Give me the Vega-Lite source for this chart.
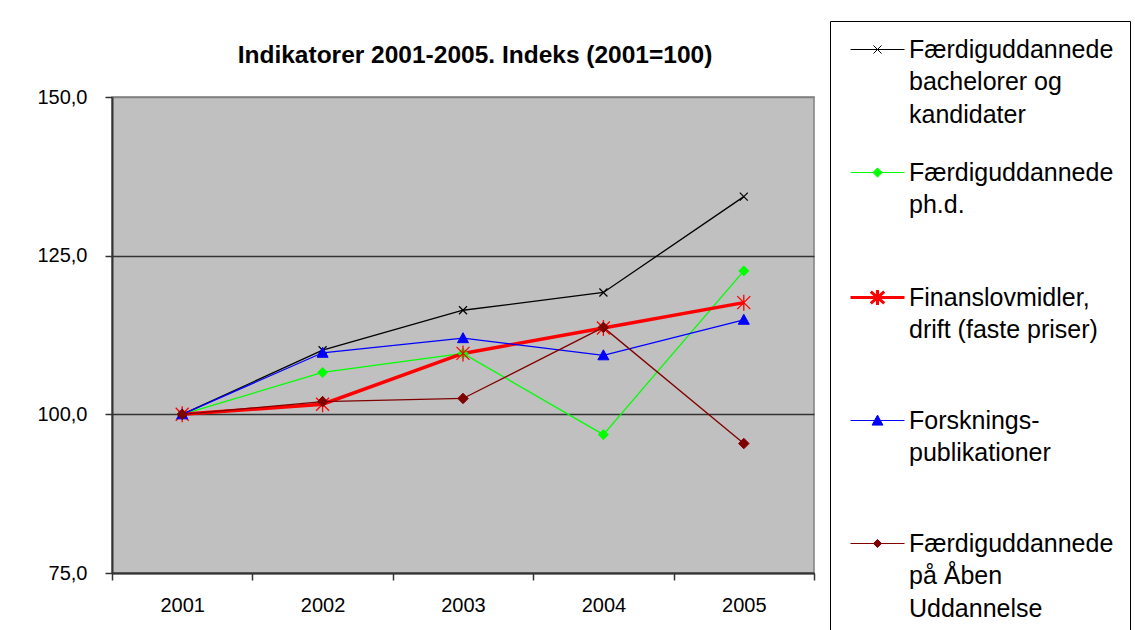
{
  "$schema": "https://vega.github.io/schema/vega-lite/v6.json",
  "autosize": {"type": "none"},
  "padding": {"left": 112, "top": 97, "right": 321, "bottom": 57},
  "width": 702,
  "height": 476,
  "background": "white",
  "config": {
    "view": {"fill": "#C0C0C0", "stroke": "#808080", "strokeWidth": 1.5},
    "font": "Liberation Sans"
  },
  "title": {
    "text": "Indikatorer 2001-2005. Indeks (2001=100)",
    "font": "Liberation Sans",
    "fontSize": 24.5,
    "fontWeight": "bold",
    "color": "#000000",
    "anchor": "middle",
    "frame": "group",
    "baseline": "alphabetic",
    "offset": 33,
    "dx": 12,
    "dy": 100
  },
  "data": {
    "values": [
      {"year": "2001", "s": "Færdiguddannede|bachelorer og|kandidater", "v": 100.0},
      {"year": "2002", "s": "Færdiguddannede|bachelorer og|kandidater", "v": 110.1},
      {"year": "2003", "s": "Færdiguddannede|bachelorer og|kandidater", "v": 116.4},
      {"year": "2004", "s": "Færdiguddannede|bachelorer og|kandidater", "v": 119.2},
      {"year": "2005", "s": "Færdiguddannede|bachelorer og|kandidater", "v": 134.3},
      {"year": "2001", "s": "Færdiguddannede|ph.d.| ", "v": 100.0},
      {"year": "2002", "s": "Færdiguddannede|ph.d.| ", "v": 106.6},
      {"year": "2003", "s": "Færdiguddannede|ph.d.| ", "v": 109.6},
      {"year": "2004", "s": "Færdiguddannede|ph.d.| ", "v": 96.8},
      {"year": "2005", "s": "Færdiguddannede|ph.d.| ", "v": 122.6},
      {"year": "2001", "s": "Finanslovmidler,|drift (faste priser)| ", "v": 100.0},
      {"year": "2002", "s": "Finanslovmidler,|drift (faste priser)| ", "v": 101.6},
      {"year": "2003", "s": "Finanslovmidler,|drift (faste priser)| ", "v": 109.6},
      {"year": "2004", "s": "Finanslovmidler,|drift (faste priser)| ", "v": 113.6},
      {"year": "2005", "s": "Finanslovmidler,|drift (faste priser)| ", "v": 117.6},
      {"year": "2001", "s": "Forsknings-|publikationer| ", "v": 100.0},
      {"year": "2002", "s": "Forsknings-|publikationer| ", "v": 109.7},
      {"year": "2003", "s": "Forsknings-|publikationer| ", "v": 112.0},
      {"year": "2004", "s": "Forsknings-|publikationer| ", "v": 109.3},
      {"year": "2005", "s": "Forsknings-|publikationer| ", "v": 114.9},
      {"year": "2001", "s": "Færdiguddannede|på Åben|Uddannelse", "v": 100.0},
      {"year": "2002", "s": "Færdiguddannede|på Åben|Uddannelse", "v": 102.0},
      {"year": "2003", "s": "Færdiguddannede|på Åben|Uddannelse", "v": 102.5},
      {"year": "2004", "s": "Færdiguddannede|på Åben|Uddannelse", "v": 113.7},
      {"year": "2005", "s": "Færdiguddannede|på Åben|Uddannelse", "v": 95.4}
    ]
  },
  "encoding": {
    "x": {
      "field": "year",
      "type": "ordinal",
      "scale": {"type": "band", "paddingInner": 0, "paddingOuter": 0},
      "axis": {
        "title": null,
        "labelAngle": 0,
        "labelFont": "Liberation Sans",
        "labelFontSize": 20,
        "labelColor": "#000000",
        "labelPadding": 15,
        "tickBand": "extent",
        "tickSize": 7,
        "tickWidth": 1.5,
        "tickColor": "#333333",
        "domainColor": "#333333",
        "domainWidth": 2,
        "grid": false
      }
    },
    "y": {
      "field": "v",
      "type": "quantitative",
      "scale": {"domain": [75, 150], "nice": false, "zero": false},
      "axis": {
        "title": null,
        "values": [75, 100, 125, 150],
        "labelExpr": "replace(format(datum.value, '.1f'), '.', ',')",
        "labelFont": "Liberation Sans",
        "labelFontSize": 20,
        "labelColor": "#000000",
        "labelPadding": 18,
        "tickSize": 7,
        "tickWidth": 1.5,
        "tickColor": "#333333",
        "domainColor": "#333333",
        "domainWidth": 2,
        "grid": true,
        "gridColor": {"condition": {"test": "datum.value == 150", "value": "#808080"}, "value": "#333333"},
        "gridWidth": 1.5
      }
    }
  },
  "layer": [
    {
      "mark": {"type": "line", "interpolate": "linear"},
      "encoding": {
        "color": {
          "field": "s",
          "type": "nominal",
          "scale": {
            "domain": [
              "Færdiguddannede|bachelorer og|kandidater",
              "Færdiguddannede|ph.d.| ",
              "Finanslovmidler,|drift (faste priser)| ",
              "Forsknings-|publikationer| ",
              "Færdiguddannede|på Åben|Uddannelse"
            ],
            "range": ["#000000", "#00FF00", "#FF0000", "#0000FF", "#800000"]
          },
          "legend": {
            "title": null,
            "orient": "none",
            "legendX": 718,
            "legendY": -76,
            "direction": "vertical",
            "strokeColor": "#000000",
            "fillColor": "#FFFFFF",
            "padding": 16,
            "symbolOffset": 2,
            "symbolSize": 2916,
            "labelOffset": 36,
            "rowPadding": 32,
            "labelFont": "Liberation Sans",
            "labelFontSize": 25,
            "labelColor": "#000000",
            "labelLimit": 500,
            "labelExpr": "split(datum.label, '|')",
            "encode": {
              "labels": {"update": {"lineHeight": {"value": 32.5}}},
              "symbols": {
                "update": {
                  "shape": {"signal": "['M-0.37,0H1.63M0.48,-0.15L0.78,0.15M0.48,0.15L0.78,-0.15', 'M-0.37,0H1.63M0.63,-0.17L0.8,0L0.63,0.17L0.46,0Z', 'M-0.37,0H1.63M0.38,-0.22L0.88,0.22M0.38,0.22L0.88,-0.22M0.63,-0.28V0.28', 'M-0.37,0H1.63M0.63,-0.2L0.83,0.17L0.43,0.17Z', 'M-0.37,0H1.63M0.63,-0.15L0.78,0L0.63,0.15L0.48,0Z'][indexof(domain('color'), datum.value)]"},
                  "size": {"value": 2916},
                  "stroke": {"scale": "color", "field": "value"},
                  "fill": {"scale": "color", "field": "value"},
                  "strokeWidth": {"signal": "indexof(domain('color'), datum.value) === 2 ? 3 : 1"}
                }
              }
            }
          }
        },
        "strokeWidth": {
          "condition": {"test": "datum.s === 'Finanslovmidler,|drift (faste priser)| '", "value": 3.5},
          "value": 1.3
        }
      }
    },
    {
      "transform": [{"filter": "datum.s === 'Færdiguddannede|bachelorer og|kandidater'"}],
      "mark": {"type": "point", "shape": "M-0.8,-0.8L0.8,0.8M-0.8,0.8L0.8,-0.8", "filled": true, "fill": "#000000", "stroke": "#000000", "strokeWidth": 1.2, "size": 100, "opacity": 1}
    },
    {
      "transform": [{"filter": "datum.s === 'Færdiguddannede|ph.d.| '"}],
      "mark": {"type": "point", "shape": "M0,-1L1,0L0,1L-1,0Z", "filled": true, "fill": "#00FF00", "stroke": "#00FF00", "strokeWidth": 1, "size": 100, "opacity": 1}
    },
    {
      "transform": [{"filter": "datum.s === 'Finanslovmidler,|drift (faste priser)| '"}],
      "mark": {"type": "point", "shape": "M-1.3,-1.3L1.3,1.3M-1.3,1.3L1.3,-1.3M0,-1.6V1.6", "filled": true, "fill": "#FF0000", "stroke": "#FF0000", "strokeWidth": 1.3, "size": 100, "opacity": 1}
    },
    {
      "transform": [{"filter": "datum.s === 'Forsknings-|publikationer| '"}],
      "mark": {"type": "point", "shape": "M0,-1.1L1.1,0.9L-1.1,0.9Z", "filled": true, "fill": "#0000FF", "stroke": "#0000FF", "strokeWidth": 1, "size": 100, "opacity": 1}
    },
    {
      "transform": [{"filter": "datum.s === 'Færdiguddannede|på Åben|Uddannelse'"}],
      "mark": {"type": "point", "shape": "M0,-1.05L1.05,0L0,1.05L-1.05,0Z", "filled": true, "fill": "#800000", "stroke": "#800000", "strokeWidth": 1, "size": 100, "opacity": 1}
    }
  ]
}
